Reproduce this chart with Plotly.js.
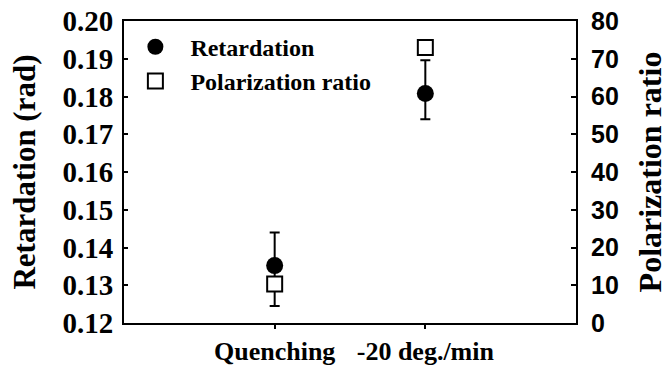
<!DOCTYPE html>
<html>
<head>
<meta charset="utf-8">
<script src="https://cdn.plot.ly/plotly-3.0.1.min.js"></script>
<style>html,body{margin:0;padding:0;background:#fff;}#chart{width:668px;height:371px;}</style>
</head>
<body>
<div id="chart"></div>
<script>
var categories = ["Quenching", "-20 deg./min"];
var retardation = [0.1352, 0.1808];
var retardationErrPlus = [0.0088, 0.0088];
var retardationErrMinus = [0.0107, 0.0068];
var polarizationRatio = [10.3, 73.0];
var leftTicks = [0.12, 0.13, 0.14, 0.15, 0.16, 0.17, 0.18, 0.19, 0.20];
var rightTicks = [0, 10, 20, 30, 40, 50, 60, 70, 80];

var serifBold = {family: "Liberation Serif, Times New Roman, serif", weight: "bold", color: "#000"};
var sansBold = {family: "Liberation Sans, Arial, sans-serif", weight: "bold", color: "#000"};
function f(base, size) { return Object.assign({}, base, {size: size}); }

var traces = [
  {
    x: [0, 1], y: retardation, type: "scatter", mode: "markers", name: "Retardation",
    yaxis: "y", xaxis: "x",
    marker: {symbol: "circle", size: 17, color: "#000"},
    error_y: {type: "data", symmetric: false, array: retardationErrPlus, arrayminus: retardationErrMinus,
              color: "#000", thickness: 2, width: 5}
  },
  {
    x: [0, 1], y: polarizationRatio, type: "scatter", mode: "markers", name: "Polarization ratio",
    yaxis: "y2", xaxis: "x",
    marker: {symbol: "square", size: 15, color: "#fff", line: {color: "#000", width: 2}}
  }
];

var layout = {
  width: 668, height: 371,
  margin: {l: 124, r: 92, t: 21, b: 48},
  paper_bgcolor: "#fff", plot_bgcolor: "#fff",
  showlegend: true,
  legend: {x: -0.008, y: 0.988, xanchor: "left", yanchor: "top", bgcolor: "rgba(0,0,0,0)",
           font: f(serifBold, 24), tracegroupgap: 0, itemwidth: 60},
  xaxis: {
    range: [-1, 2], tickvals: [0, 1], ticktext: categories,
    showline: true, linecolor: "#000", linewidth: 2, mirror: true,
    ticks: "outside", ticklen: 4, tickwidth: 2, tickcolor: "#000",
    showgrid: false, zeroline: false, tickfont: f(serifBold, 26), fixedrange: true
  },
  yaxis: {
    range: [0.12, 0.20], tickvals: leftTicks, ticktext: leftTicks.map(function(v){return v.toFixed(2);}),
    showline: true, linecolor: "#000", linewidth: 2,
    ticks: "inside", ticklen: 4, tickwidth: 2, tickcolor: "#000", ticklabelstandoff: 3,
    showgrid: false, zeroline: false, tickfont: f(serifBold, 29),
    title: {text: "Retardation (rad)", font: f(serifBold, 31), standoff: 18}
  },
  yaxis2: {
    range: [0, 80], tickvals: rightTicks, overlaying: "y", side: "right",
    showline: true, linecolor: "#000", linewidth: 2,
    ticks: "inside", ticklen: 5, tickwidth: 2, tickcolor: "#000", ticklabelstandoff: 8,
    showgrid: false, zeroline: false, tickfont: f(sansBold, 25),
    title: {text: "Polarization ratio", font: f(serifBold, 32), standoff: 26}
  }
};

Plotly.newPlot("chart", traces, layout, {displayModeBar: false, staticPlot: true});
</script>
</body>
</html>
